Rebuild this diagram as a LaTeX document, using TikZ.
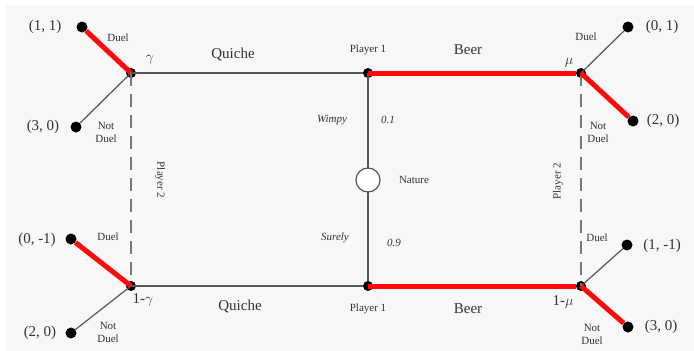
\documentclass[tikz,border=0pt]{standalone}
\usepackage{fontspec}
\setmainfont{Liberation Serif}
\usepackage{tikz}
\usepackage{xcolor}
\usetikzlibrary{positioning}

\definecolor{paper}{HTML}{F7F7F7}
\definecolor{edgegrey}{HTML}{555555}
\definecolor{inkgrey}{HTML}{333333}
\definecolor{beerred}{HTML}{FF0A0A}

\begin{document}
\begin{tikzpicture}
  [x=1pt,y=-1pt,
   every node/.style={text=inkgrey},
   dot/.style={circle,fill=black,inner sep=0pt,minimum size=11pt},
   move/.style={circle,fill=black,inner sep=0pt,minimum size=10pt},
   chance/.style={circle,draw=edgegrey,fill=white,line width=1.2pt,inner sep=0pt,minimum size=24pt},
   big/.style={font=\fontsize{15}{17}\selectfont},
   small/.style={font=\fontsize{11}{13}\selectfont,align=center},
   thin edge/.style={draw=edgegrey,line width=1.2pt},
   red edge/.style={draw=beerred,line width=5pt},
   info/.style={draw=edgegrey!80,line width=1.6pt,dash pattern=on 13pt off 8pt}]
  \fill[white] (0,0) rectangle (694,351);
  \fill[paper] (6,5) rectangle (694,351);
  \useasboundingbox (0,0) rectangle (694,351);

  % decision nodes
  \node[move] (gt) at (131,73) {};
  \node[move] (pt) at (368,73) {};
  \node[move] (mt) at (581,73) {};
  \node[move] (gb) at (131,286) {};
  \node[move] (pb) at (368,286) {};
  \node[move] (mb) at (581,286) {};
  \coordinate (nat) at (368,180);

  % end points
  \node[dot] (t1) at (82,27) {};
  \node[dot] (t2) at (76,127) {};
  \node[dot] (t3) at (71,239) {};
  \node[dot] (t4) at (71,333) {};
  \node[dot] (t5) at (628,27) {};
  \node[dot] (t6) at (633,121) {};
  \node[dot] (t7) at (627,245) {};
  \node[dot] (t8) at (628,327) {};

\foreach \from/\to in {gt/pt,gb/pb,gt/t2,gb/t4,mt/t5,mb/t7,pt/pb}
    \draw[thin edge] (\from.center) -- (\to);
\foreach \from/\to in {gt/gb,mt/mb}
    \draw[info] (\from.center) -- (\to.center);
\foreach \from/\to in {gt/t1,gb/t3,pt/mt,mt/t6,pb/mb,mb/t8}
    \draw[red edge] (\from.center) -- (\to);

  \node[chance] (nature) at (nat) {};

  % payoffs
  \node[big] at (45,27) {(1, 1)};
  \node[big] at (43,127) {(3, 0)};
  \node[big] at (37,240) {(0, -1)};
  \node[big] at (40,333) {(2, 0)};
  \node[big] at (662,27) {(0, 1)};
  \node[big] at (663,121) {(2, 0)};
  \node[big] at (662,246) {(1, -1)};
  \node[big] at (661,327) {(3, 0)};

  % actions
  \node[small] at (118,38) {Duel};
  \node[small] at (106,132) {Not\\Duel};
  \node[small] at (108,237) {Duel};
  \node[small] at (108,332) {Not\\Duel};
  \node[small] at (586,37) {Duel};
  \node[small] at (598,132) {Not\\Duel};
  \node[small] at (597,238) {Duel};
  \node[small] at (592,334) {Not\\Duel};
  \node[big] at (233,55) {Quiche};
  \node[big] at (240,307) {Quiche};
  \node[big] at (468,50) {Beer};
  \node[big] at (468,309) {Beer};

  % players and beliefs
  \node[small] at (368,50) {Player 1};
  \node[small] at (368,309) {Player 1};
  \node[small,rotate=-90] at (160,180) {Player 2};
  \node[small,rotate=90] at (558,181) {Player 2};
  \node[small] at (414,180) {Nature};
  \node[small] at (332,120) {\itshape Wimpy};
  \node[small] at (388,120) {\itshape 0.1};
  \node[small] at (335,238) {\itshape Surely};
  \node[small] at (394,243) {\itshape 0.9};
  \node[big] at (150,60) {$\gamma$};
  \node[big] at (143,300) {1-$\gamma$};
  \node[big] at (569,63) {$\mu$};
  \node[big] at (563,302) {1-$\mu$};

\end{tikzpicture}
\end{document}
